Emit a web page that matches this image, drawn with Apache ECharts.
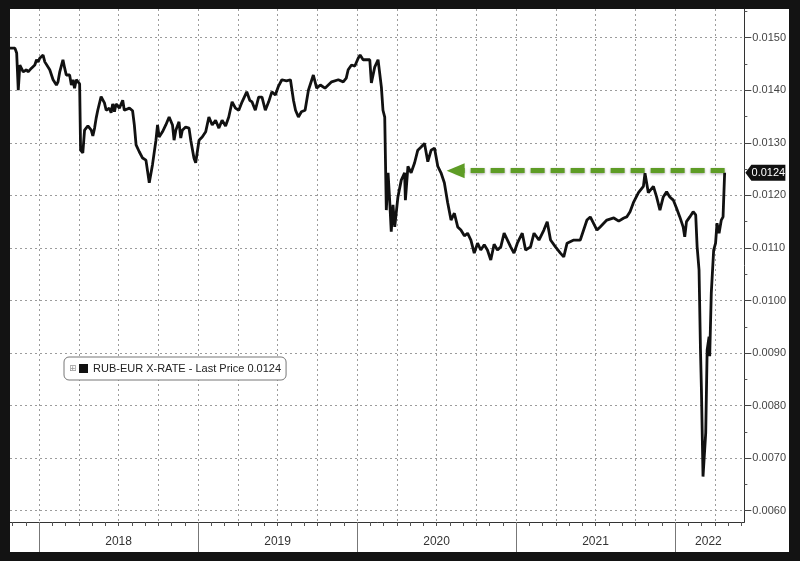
<!DOCTYPE html>
<html>
<head>
<meta charset="utf-8">
<script src="https://cdn.jsdelivr.net/npm/echarts@6/dist/echarts.min.js"></script>
<style>
html,body{margin:0;padding:0;background:#131313;width:800px;height:561px;overflow:hidden}
#chart{position:absolute;left:10px;top:9px;width:779px;height:543px;background:#fff}
</style>
</head>
<body>
<div id="chart"></div>
<script>
// Dates as decimal years
const dates = [
2017.817,2017.848,2017.859,2017.869,2017.879,2017.890,2017.900,2017.921,2017.931,2017.952,
2017.962,2017.973,2017.984,2017.994,2018.004,2018.025,2018.036,2018.046,2018.067,2018.088,
2018.109,2018.119,2018.130,2018.150,2018.161,2018.171,2018.192,2018.203,2018.213,2018.223,
2018.234,2018.244,2018.255,2018.261,2018.275,2018.286,2018.307,2018.328,2018.338,2018.349,
2018.359,2018.369,2018.390,2018.411,2018.422,2018.442,2018.453,2018.463,2018.474,2018.484,
2018.505,2018.526,2018.536,2018.547,2018.568,2018.588,2018.599,2018.610,2018.630,2018.651,
2018.672,2018.693,2018.713,2018.735,2018.745,2018.755,2018.776,2018.797,2018.818,2018.839,
2018.849,2018.860,2018.880,2018.891,2018.901,2018.922,2018.943,2018.954,2018.974,2018.985,
2019.006,2019.026,2019.048,2019.068,2019.089,2019.110,2019.131,2019.151,2019.173,2019.193,
2019.214,2019.235,2019.256,2019.277,2019.306,2019.325,2019.339,2019.360,2019.381,2019.402,
2019.423,2019.444,2019.464,2019.486,2019.506,2019.527,2019.556,2019.581,2019.600,2019.613,
2019.631,2019.650,2019.673,2019.694,2019.725,2019.746,2019.769,2019.798,2019.819,2019.840,
2019.882,2019.913,2019.932,2019.944,2019.965,2019.986,2020.007,2020.019,2020.038,2020.059,
2020.080,2020.090,2020.111,2020.132,2020.143,2020.153,2020.163,2020.174,2020.184,2020.195,
2020.205,2020.215,2020.226,2020.237,2020.257,2020.278,2020.299,2020.304,2020.320,2020.340,
2020.362,2020.382,2020.403,2020.424,2020.445,2020.466,2020.487,2020.508,2020.528,2020.549,
2020.570,2020.591,2020.612,2020.633,2020.653,2020.675,2020.695,2020.716,2020.737,2020.758,
2020.778,2020.800,2020.820,2020.841,2020.862,2020.883,2020.904,2020.925,2020.946,2020.966,
2020.987,2021.008,2021.039,2021.060,2021.091,2021.113,2021.144,2021.175,2021.196,2021.217,
2021.248,2021.279,2021.300,2021.321,2021.363,2021.404,2021.446,2021.467,2021.509,2021.529,
2021.571,2021.615,2021.646,2021.678,2021.696,2021.717,2021.738,2021.770,2021.801,2021.811,
2021.832,2021.864,2021.884,2021.905,2021.926,2021.947,2021.967,2021.989,2022.009,2022.030,
2022.051,2022.061,2022.072,2022.093,2022.114,2022.130,2022.139,2022.151,2022.160,2022.166,
2022.176,2022.193,2022.202,2022.214,2022.218,2022.228,2022.243,2022.255,2022.264,2022.277,
2022.291,2022.302,2022.312
];
// RUB-EUR exchange rate
const rubEur = [
0.01480,0.01480,0.01471,0.01400,0.01448,0.01448,0.01435,0.01439,0.01435,0.01442,
0.01439,0.01448,0.01458,0.01454,0.01461,0.01467,0.01454,0.01452,0.01439,0.01420,
0.01410,0.01416,0.01435,0.01458,0.01442,0.01429,0.01429,0.01410,0.01420,0.01404,
0.01420,0.01420,0.01412,0.01286,0.01281,0.01324,0.01332,0.01324,0.01313,0.01328,
0.01347,0.01362,0.01388,0.01376,0.01362,0.01366,0.01357,0.01374,0.01359,0.01374,
0.01366,0.01381,0.01362,0.01359,0.01366,0.01361,0.01334,0.01296,0.01283,0.01271,
0.01267,0.01224,0.01258,0.01305,0.01334,0.01311,0.01321,0.01334,0.01349,0.01334,
0.01305,0.01324,0.01340,0.01309,0.01324,0.01330,0.01328,0.01305,0.01271,0.01262,
0.01305,0.01311,0.01321,0.01349,0.01334,0.01343,0.01328,0.01343,0.01332,0.01349,
0.01378,0.01366,0.01362,0.01378,0.01397,0.01381,0.01378,0.01362,0.01387,0.01387,
0.01362,0.01378,0.01397,0.01391,0.01408,0.01420,0.01418,0.01420,0.01381,0.01362,
0.01349,0.01359,0.01362,0.01400,0.01429,0.01404,0.01410,0.01404,0.01410,0.01416,
0.01420,0.01416,0.01423,0.01439,0.01448,0.01446,0.01461,0.01467,0.01458,0.01458,
0.01458,0.01414,0.01444,0.01458,0.01458,0.01406,0.01362,0.01349,0.01172,0.01243,
0.01191,0.01131,0.01182,0.01140,0.01197,0.01229,0.01243,0.01191,0.01255,0.01243,
0.01262,0.01286,0.01292,0.01299,0.01264,0.01286,0.01290,0.01255,0.01243,0.01224,
0.01186,0.01153,0.01166,0.01140,0.01134,0.01123,0.01128,0.01115,0.01090,0.01109,
0.01096,0.01106,0.01096,0.01077,0.01107,0.01096,0.01102,0.01128,0.01115,0.01102,
0.01090,0.01109,0.01128,0.01096,0.01102,0.01128,0.01115,0.01134,0.01150,0.01115,
0.01102,0.01090,0.01083,0.01109,0.01115,0.01115,0.01153,0.01159,0.01134,0.01140,
0.01153,0.01157,0.01151,0.01157,0.01159,0.01169,0.01186,0.01205,0.01217,0.01242,
0.01205,0.01217,0.01197,0.01172,0.01197,0.01207,0.01197,0.01191,0.01176,0.01159,
0.01140,0.01121,0.01150,0.01159,0.01169,0.01163,0.01102,0.01058,0.00906,0.00830,
0.00665,0.00748,0.00906,0.00931,0.00894,0.01014,0.01096,0.01109,0.01147,0.01128,
0.01153,0.01159,0.01243
];
const seriesName = 'RUB-EUR X-RATE';
const yearStarts = [2018, 2019, 2020, 2021, 2022];
const yearLabels = ['2018', '2019', '2020', '2021', '2022'];
const yearLabelPos = [2018.5, 2019.5, 2020.5, 2021.5, 2022.21];
const yLabelValues = [0.0060, 0.0070, 0.0080, 0.0090, 0.0100, 0.0110, 0.0120, 0.0130, 0.0140, 0.0150];
const arrowLevel = 0.01247;
const arrowTip = 2020.62;

const X_MIN = 2017.817, X_MAX = 2022.436, Y_MIN = 0.005785, Y_MAX = 0.015546;
const rnd = v => Math.round(v * 1e7) / 1e7;
const monthTicks = [], quarterTicks = [];
for (let y = 2017; y <= 2022; y++) {
  for (let m = 0; m < 12; m++) {
    const v = rnd(y + m / 12);
    if (v >= X_MIN && v <= X_MAX) {
      monthTicks.push(v);
      if (m % 3 === 0) quarterTicks.push(v);
    }
  }
}
const yHalfTicks = [];
for (let k = 0; k <= 19; k++) {
  const v = rnd(0.006 + k * 0.0005);
  if (v <= Y_MAX) yHalfTicks.push(v);
}
const lastVal = rubEur[rubEur.length - 1];
const lastDate = dates[dates.length - 1];
const FONT = 'Liberation Sans, Arial, sans-serif';
const gridLine = {show: true, lineStyle: {color: '#9c9c9c', type: [2, 3], width: 1}};

const xBase = {type: 'value', min: X_MIN, max: X_MAX, position: 'bottom', gridIndex: 0,
  axisLine: {show: false, onZero: false}, axisTick: {show: false}, axisLabel: {show: false}, splitLine: {show: false}};
const yBase = {type: 'value', min: Y_MIN, max: Y_MAX, position: 'right', gridIndex: 0,
  axisLine: {show: false, onZero: false}, axisTick: {show: false}, axisLabel: {show: false}, splitLine: {show: false}};

const chart = echarts.init(document.getElementById('chart'), null, {renderer: 'canvas'});
chart.setOption({
  animation: false,
  backgroundColor: '#ffffff',
  textStyle: {fontFamily: FONT},
  grid: {left: 0, top: 0, right: 40.3, bottom: 30, containLabel: false},
  xAxis: [
    Object.assign({}, xBase, {
      axisLine: {show: true, onZero: false, lineStyle: {color: '#333', width: 1}},
      axisTick: {show: true, customValues: monthTicks, length: 4, lineStyle: {color: '#555'}}
    }),
    Object.assign({}, xBase, {
      axisTick: {show: false, customValues: quarterTicks},
      splitLine: gridLine
    }),
    Object.assign({}, xBase, {
      axisTick: {show: true, customValues: yearStarts, length: 30, lineStyle: {color: '#777'}},
      axisLabel: {show: true, customValues: yearLabelPos, margin: 14, color: '#333', fontSize: 12,
        fontFamily: 'Liberation Sans Narrow, Liberation Sans, sans-serif',
        formatter: v => yearLabels[yearStarts.indexOf(Math.floor(v + 1e-9))]}
    })
  ],
  yAxis: [
    Object.assign({}, yBase, {
      axisLine: {show: true, onZero: false, lineStyle: {color: '#333', width: 1}},
      axisTick: {show: true, customValues: yHalfTicks, length: 3, lineStyle: {color: '#555'}},
      axisLabel: {show: true, customValues: yLabelValues, margin: 8, color: '#444', fontSize: 11,
        formatter: v => v.toFixed(4)}
    }),
    Object.assign({}, yBase, {
      axisTick: {show: true, customValues: yLabelValues, length: 7, lineStyle: {color: '#444'}},
      splitLine: gridLine
    })
  ],
  legend: {
    show: true, left: 54, top: 348, padding: [6, 5, 6, 15],
    itemWidth: 9, itemHeight: 9, itemGap: 5, icon: 'rect',
    backgroundColor: '#fff', borderColor: '#777', borderWidth: 1, borderRadius: 5,
    textStyle: {fontSize: 11, color: '#222', fontFamily: FONT},
    formatter: n => n + ' - Last Price ' + lastVal.toFixed(4),
    data: [seriesName]
  },
  graphic: [
    {type: 'text', left: 59, top: 355, z: 100, silent: true,
     style: {text: '\u229E', fill: '#999', fontSize: 9, fontFamily: 'DejaVu Sans'}}
  ],
  series: [{
    type: 'line', name: seriesName, xAxisIndex: 0, yAxisIndex: 0,
    data: dates.map((d, i) => [d, rubEur[i]]),
    showSymbol: false, symbol: 'none',
    lineStyle: {color: '#111', width: 2.8},
    itemStyle: {color: '#111'},
    markLine: {
      silent: true, animation: false,
      symbol: ['none', 'triangle'], symbolSize: [15, 18],
      label: {show: false},
      lineStyle: {color: '#5e9c26', width: 5, type: [14, 6],
        shadowBlur: 3, shadowColor: 'rgba(0,0,0,0.35)', shadowOffsetY: 1},
      data: [[{coord: [lastDate, arrowLevel]}, {coord: [arrowTip, arrowLevel]}]]
    },
    markPoint: {
      silent: true, animation: false,
      symbol: 'path://M0,7L6,0L40,0L40,14L6,14Z', symbolSize: [40, 16], symbolOffset: [21, 0],
      itemStyle: {color: '#111'},
      label: {show: true, position: 'inside', color: '#fff', fontSize: 11, offset: [3, 0],
        formatter: () => lastVal.toFixed(4)},
      data: [{coord: [X_MAX, lastVal]}]
    }
  }]
});
</script>
</body>
</html>
